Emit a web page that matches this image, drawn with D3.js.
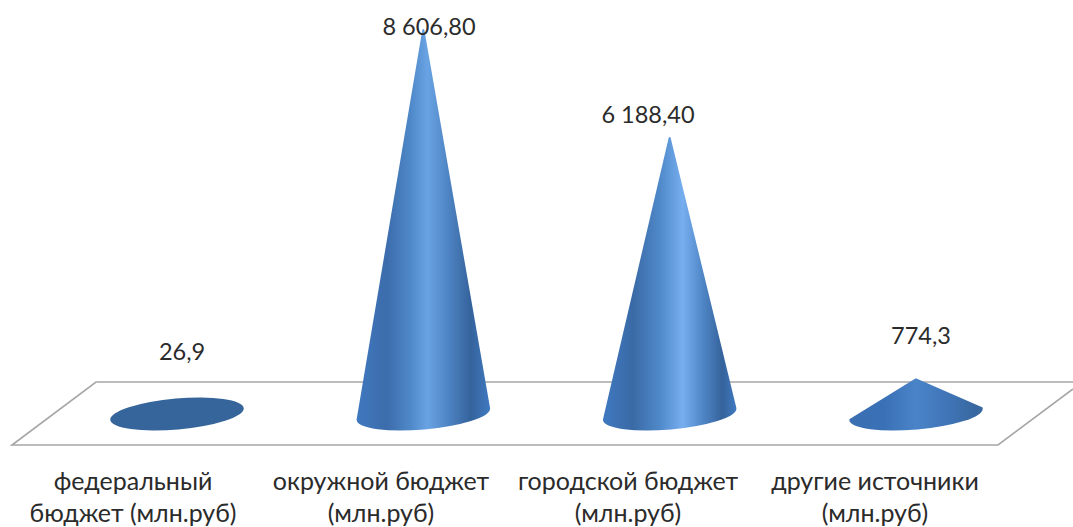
<!DOCTYPE html>
<html><head><meta charset="utf-8">
<script src="https://cdn.jsdelivr.net/npm/d3@7"></script>
<style>html,body{margin:0;background:#fff;overflow:hidden}svg{display:block}text{font-family:Lato,"Open Sans",sans-serif;fill:#2b2b2b;text-anchor:middle}</style>
</head><body><svg id="c" width="1073" height="527"></svg>
<script>
const categories=[["федеральный","бюджет (млн.руб)"],["окружной бюджет","(млн.руб)"],["городской бюджет","(млн.руб)"],["другие источники","(млн.руб)"]];
const values=[26.9,8606.8,6188.4,774.3];
const valueLabels=["26,9","8 606,80","6 188,40","774,3"];
const svg=d3.select("#c");
const x=d3.scalePoint().domain(d3.range(4)).range([177,916]);
const y=d3.scaleLinear().domain([0,8606.8]).range([414,30]);
const rx=66,ry=14.5,tilt=-5;

const defs=svg.append("defs");
const g=defs.append("linearGradient").attr("id","cone").attr("x1","0").attr("x2","1").attr("y1","0").attr("y2","0");
[[0,"#3f78bf"],[.22,"#3c6cab"],[.4,"#4f88c8"],[.53,"#6aa3e3"],[.68,"#4f86c6"],[.86,"#35639c"],[1,"#3f78bf"]]
 .forEach(([o,c])=>g.append("stop").attr("offset",o).attr("stop-color",c));
const g2=defs.append("linearGradient").attr("id","cone2").attr("x1","0").attr("x2","1").attr("y1","0").attr("y2","0");
[[0,"#3f78bf"],[.22,"#3a6aa6"],[.42,"#4f88c8"],[.6,"#76aef0"],[.75,"#4f86c6"],[.9,"#35639c"],[1,"#3f78bf"]]
 .forEach(([o,c])=>g2.append("stop").attr("offset",o).attr("stop-color",c));
const g3=defs.append("linearGradient").attr("id","cone3").attr("x1","0").attr("x2","1").attr("y1","0").attr("y2","0");
[[0,"#3a6fb2"],[.25,"#3a70b5"],[.5,"#4a84c8"],[.75,"#3f74b6"],[.95,"#38689f"],[1,"#38689f"]]
 .forEach(([o,c])=>g3.append("stop").attr("offset",o).attr("stop-color",c));

svg.append("path").attr("d",d3.line()([[1073,382],[96,382],[12,445],[998,445],[1073,389]]))
  .attr("fill","none").attr("stroke","#a6a6a6").attr("stroke-width",1.6);

const th=tilt*Math.PI/180;
function conePath(i,v){
  const cx=x(i),cy=y(0),ay=y(v);
  const lx=cx-rx*Math.cos(th), ly=cy-rx*Math.sin(th);
  const rxp=cx+rx*Math.cos(th), ryp=cy+rx*Math.sin(th);
  return `M${lx},${ly} L${cx},${ay} L${rxp},${ryp} A${rx},${ry} ${tilt} 0 1 ${lx},${ly}Z`;
}
values.forEach((v,i)=>{
  if(v<100){
    svg.append("ellipse").attr("cx",x(i)).attr("cy",y(0)).attr("rx",rx+1).attr("ry",ry+1)
      .attr("transform",`rotate(${tilt} ${x(i)} ${y(0)})`).attr("fill","#36659c");
  } else {
    const id=["","cone","cone2","cone3"][i];
    svg.append("path").attr("d",conePath(i,v)).attr("fill",`url(#${id})`)
      .attr("stroke",`url(#${id})`).attr("stroke-width",2).attr("stroke-linejoin","round");
  }
});
const labelX=[182,429,648,921], labelY=[360,35,123,344];
valueLabels.forEach((t,i)=>svg.append("text").style("font-size","23.5px").attr("x",labelX[i]).attr("y",labelY[i]).text(t));
categories.forEach((ls,i)=>ls.forEach((t,j)=>svg.append("text").style("font-size","25px").attr("x",[133,381,628,875][i]).attr("y",490+j*31.5).text(t)));
</script></body></html>
